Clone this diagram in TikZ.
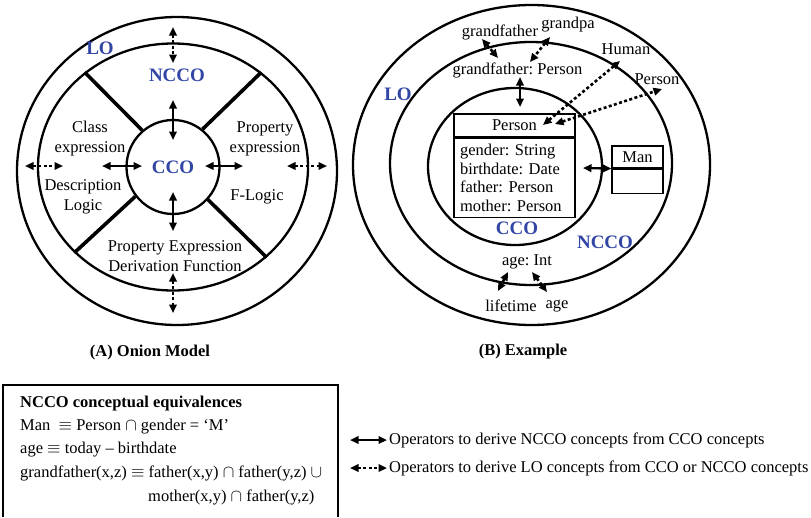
\documentclass[tikz,border=0pt]{standalone}
\usepackage{fontspec}
\setmainfont{Liberation Serif}
\usetikzlibrary{arrows.meta,shapes.geometric}
\definecolor{ringblue}{RGB}{50,70,165}
\frenchspacing

\begin{document}
\begin{tikzpicture}[x=1pt,y=-1pt,
  ring/.style={draw, ellipse, line width=2.3pt, inner sep=0pt},
  divider/.style={line width=3.6pt},
  tip/.tip={Triangle[length=8.5pt,width=7.5pt]},
  biarrow/.style={tip-tip, line width=2.3pt},
  dotarrow/.style={tip-tip, line width=2.6pt, dash pattern=on 3pt off 2.4pt},
  lbl/.style={font=\fontsize{16.5}{20}\selectfont, inner sep=0pt, align=center},
  layer/.style={font=\fontsize{19}{22}\selectfont\bfseries, text=ringblue, inner sep=0pt},
  caption/.style={font=\fontsize{16.5}{20}\selectfont\bfseries, inner sep=0pt},
  line/.style={font=\fontsize{16.5}{20}\selectfont, inner sep=0pt, anchor=west},
  umlbox/.style={draw, line width=1.2pt, font=\fontsize{16.5}{18.5}\selectfont},
]
\useasboundingbox (0,0) rectangle (811,517);

% ---------------- (A) onion model ----------------
\node[ring, minimum width=320pt, minimum height=308pt] (loA) at (177,171) {};
\node[ring, minimum width=270pt, minimum height=247pt] (nccoA) at (173,167) {};
\node[ring, minimum width=93pt, minimum height=94pt] (ccoA) at (173,167) {};

% sector dividers of the NCCO ring
\draw[divider] (ccoA.130) -- (nccoA.133);
\draw[divider] (ccoA.52) -- (nccoA.47);
\draw[divider] (ccoA.218) -- (nccoA.221);
\draw[divider] (ccoA.317) -- (nccoA.316);

\node[layer] (loAl) at (100,48) {LO};
\node[layer] (nccoAl) at (177,75) {NCCO};
\node[layer] (ccoAl) at (173,167) {CCO};

\node[lbl] (classexp) at (90,139) {Class\\expression};
\node[lbl] (dl) at (83,197) {Description\\Logic};
\node[lbl] (propexp) at (265,139) {Property\\expression};
\node[lbl] (flogic) at (257,197) {F-Logic};
\node[lbl, font=\fontsize{16.5}{19.5}\selectfont] (pedf) at (175,256) {Property Expression\\Derivation Function};

% CCO <-> NCCO operators
\coordinate (aN1) at (173,100); \coordinate (aN2) at (173,140);
\coordinate (aS1) at (173,192); \coordinate (aS2) at (173,231);
\coordinate (aW1) at (102,166); \coordinate (aW2) at (142,166);
\coordinate (aE1) at (205,166); \coordinate (aE2) at (243,166);
\draw[biarrow] (aN1) -- (aN2);
\draw[biarrow] (aS1) -- (aS2);
\draw[biarrow] (aW1) -- (aW2);
\draw[biarrow] (aE1) -- (aE2);

% operators towards LO
\coordinate (dN1) at (173,27);  \coordinate (dN2) at (173,63);
\coordinate (dS1) at (173,273); \coordinate (dS2) at (173,313);
\coordinate (dW1) at (25,166);  \coordinate (dW2) at (63,166);
\coordinate (dE1) at (287,166); \coordinate (dE2) at (327,166);
\draw[dotarrow] (dN1) -- (dN2);
\draw[dotarrow] (dS1) -- (dS2);
\draw[dotarrow] (dW1) -- (dW2);
\draw[dotarrow] (dE1) -- (dE2);

\node[caption] (capA) at (150,353) {(A) Onion Model};

% ---------------- (B) example ----------------
\node[ring, minimum width=357pt, minimum height=320pt] (loB) at (531.5,165) {};
\node[ring, minimum width=282pt, minimum height=243pt] (nccoB) at (531,163.5) {};
\node[ring, minimum width=174pt, minimum height=157pt] (ccoB) at (515,166.5) {};

\node[layer] (loBl) at (398,94) {LO};
\node[layer] (nccoBl) at (605,242) {NCCO};
\node[layer] (ccoBl) at (517,228) {CCO};

% class Person
\node[umlbox, minimum width=121pt, minimum height=23pt, inner sep=0pt] (person) at (514.5,125.5) {Person};
\node[umlbox, anchor=north, text width=109pt, inner xsep=6pt, inner ysep=0pt,
      minimum height=79pt, align=left] (personattr) at (person.south)
  {gender: String\\birthdate: Date\\father: Person\\mother: Person};

% class Man
\node[umlbox, minimum width=51pt, minimum height=22pt, inner sep=0pt] (man) at (637.5,157) {Man};
\node[umlbox, anchor=north, minimum width=51pt, minimum height=24pt, inner sep=0pt] (manbody) at (man.south) {};

\node[lbl] (gf) at (500,32) {grandfather};
\node[lbl] (gpa) at (568,25) {grandpa};
\node[lbl] (gfp) at (517.5,70) {grandfather: Person};
\node[lbl] (human) at (626,49) {Human};
\node[lbl] (personlo) at (657,79) {Person};
\node[lbl] (ageint) at (527,262) {age: Int};
\node[lbl] (lifetime) at (511,306) {lifetime};
\node[lbl] (agelo) at (557,306) {age};

\coordinate (gfpS) at (520,77);
\coordinate (personN) at (520,107);
\draw[biarrow] (gfpS) -- (personN);
\coordinate (personE) at (583,168);
\draw[biarrow] (personE) -- (man.south west);

\coordinate (gf1) at (482,39);  \coordinate (gf2) at (498,58);
\coordinate (gp1) at (550,37);  \coordinate (gp2) at (530,62);
\coordinate (hu1) at (543,125); \coordinate (hu2) at (620,61);
\coordinate (pl1) at (555,124); \coordinate (pl2) at (662,89);
\coordinate (lt1) at (508,272); \coordinate (lt2) at (498,291);
\coordinate (ag1) at (532,272); \coordinate (ag2) at (547,292);
\draw[dotarrow] (gf1) -- (gf2);
\draw[dotarrow] (gp1) -- (gp2);
\draw[dotarrow] (hu1) -- (hu2);
\draw[dotarrow] (pl1) -- (pl2);
\draw[dotarrow] (lt1) -- (lt2);
\draw[dotarrow] (ag1) -- (ag2);

\node[caption] (capB) at (523,352) {(B) Example};

% ---------------- equivalences box ----------------
\coordinate (bxBL) at (3,517);
\coordinate (bxTL) at (3,385);
\coordinate (bxTR) at (338,385);
\coordinate (bxBR) at (338,517);
\draw[line width=1.2pt] (bxBL) -- (bxTL) -- (bxTR) -- (bxBR);

\node[line, font=\fontsize{16.5}{20}\selectfont\bfseries] (eqhead) at (20,404) {NCCO conceptual equivalences};
\node[line] (eq1) at (20,427) {Man \ $\equiv$ Person $\cap$ gender = ‘M’};
\node[line] (eq2) at (20,450) {age $\equiv$ today – birthdate};
\node[line] (eq3) at (20,473) {grandfather(x,z) $\equiv$ father(x,y) $\cap$ father(y,z) $\cup$};
\node[line] (eq4) at (148,497) {mother(x,y) $\cap$ father(y,z)};

% ---------------- legend ----------------
\coordinate (lg1a) at (350,440); \coordinate (lg1b) at (387,440);
\coordinate (lg2a) at (350,468); \coordinate (lg2b) at (387,468);
\draw[biarrow] (lg1a) -- (lg1b);
\draw[dotarrow] (lg2a) -- (lg2b);
\node[line] (lgt1) at (389,440) {Operators to derive NCCO concepts from CCO concepts};
\node[line] (lgt2) at (389,468) {Operators to derive LO concepts from CCO or NCCO concepts};
\end{tikzpicture}
\end{document}
